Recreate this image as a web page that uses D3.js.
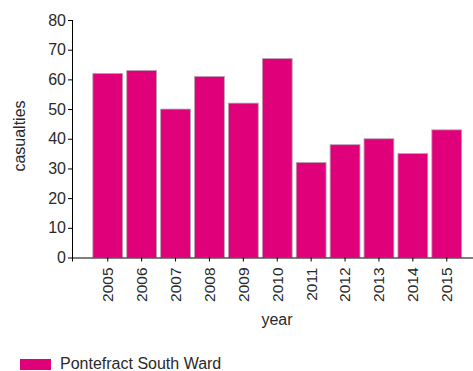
<!DOCTYPE html>
<html>
<head>
<meta charset="utf-8">
<script src="https://cdn.jsdelivr.net/npm/d3@7"></script>
<style>
  html, body { margin: 0; padding: 0; background: #fff; }
  svg { display: block; font-family: "Liberation Sans", Arial, sans-serif; }
</style>
</head>
<body>
<svg id="chart" width="473" height="371"></svg>
<script>
// Casualties per year, Pontefract South Ward
const years = ["2005", "2006", "2007", "2008", "2009", "2010", "2011", "2012", "2013", "2014", "2015"];
const casualties = [62, 63, 50, 61, 52, 67, 32, 38, 40, 35, 43];
const yTicks = [0, 10, 20, 30, 40, 50, 60, 70, 80];
const seriesName = "Pontefract South Ward";

const svg = d3.select("#chart");
const axisX0 = 72, axisX1 = 473;
const y0 = 257.5, yTop = 20;
const textColor = "#2a2a2a";

const x = d3.scaleBand()
  .domain(years)
  .range([90.8, 463.7])
  .paddingInner(0.12)
  .paddingOuter(0.06);

const y = d3.scaleLinear().domain([0, 80]).range([y0, yTop]);

// bars
svg.append("g")
  .selectAll("rect")
  .data(years.map((yr, i) => ({ yr, v: casualties[i] })))
  .join("rect")
  .attr("x", d => x(d.yr))
  .attr("y", d => y(d.v))
  .attr("width", x.bandwidth())
  .attr("height", d => y0 - y(d.v))
  .attr("fill", "#e0007a")
  .attr("stroke", "#b9a4b0")
  .attr("stroke-width", 0.8);

// y axis
const yAxis = svg.append("g")
  .attr("transform", `translate(${axisX0},0)`)
  .call(d3.axisLeft(y).tickValues(yTicks).tickSize(4).tickPadding(2).tickSizeOuter(0));
yAxis.select(".domain").remove();
yAxis.append("line")
  .attr("x1", 0.5).attr("x2", 0.5)
  .attr("y1", yTop).attr("y2", y0 + 4)
  .attr("stroke", "#000");
yAxis.selectAll(".tick line").attr("stroke", "#000");
yAxis.selectAll(".tick text")
  .attr("font-size", 16)
  .attr("fill", textColor)
  .attr("font-family", "Liberation Sans, Arial, sans-serif");

// x axis
const xAxis = svg.append("g")
  .attr("transform", `translate(0,${y0})`)
  .call(d3.axisBottom(x).tickSize(4).tickSizeOuter(0));
xAxis.select(".domain").remove();
xAxis.append("line")
  .attr("x1", axisX0).attr("x2", axisX1)
  .attr("y1", 0.5).attr("y2", 0.5)
  .attr("stroke", "#000");
xAxis.selectAll(".tick line").attr("stroke", "#000");
xAxis.selectAll(".tick text")
  .attr("font-size", 15.5)
  .attr("fill", textColor)
  .attr("font-family", "Liberation Sans, Arial, sans-serif")
  .attr("transform", "rotate(-90)")
  .attr("text-anchor", "end")
  .attr("dy", "0.35em")
  .attr("x", -10)
  .attr("y", 0);

// axis titles
svg.append("text")
  .attr("transform", "translate(25,136) rotate(-90)")
  .attr("text-anchor", "middle")
  .attr("font-size", 16)
  .attr("fill", textColor)
  .text("casualties");

svg.append("text")
  .attr("x", 277)
  .attr("y", 325)
  .attr("text-anchor", "middle")
  .attr("font-size", 16)
  .attr("fill", textColor)
  .text("year");

// legend
const legend = svg.append("g");
legend.append("rect")
  .attr("x", 20).attr("y", 359)
  .attr("width", 31).attr("height", 11)
  .attr("fill", "#e0007a");
legend.append("text")
  .attr("x", 60).attr("y", 369)
  .attr("font-size", 16)
  .attr("fill", textColor)
  .text(seriesName);
</script>
</body>
</html>
